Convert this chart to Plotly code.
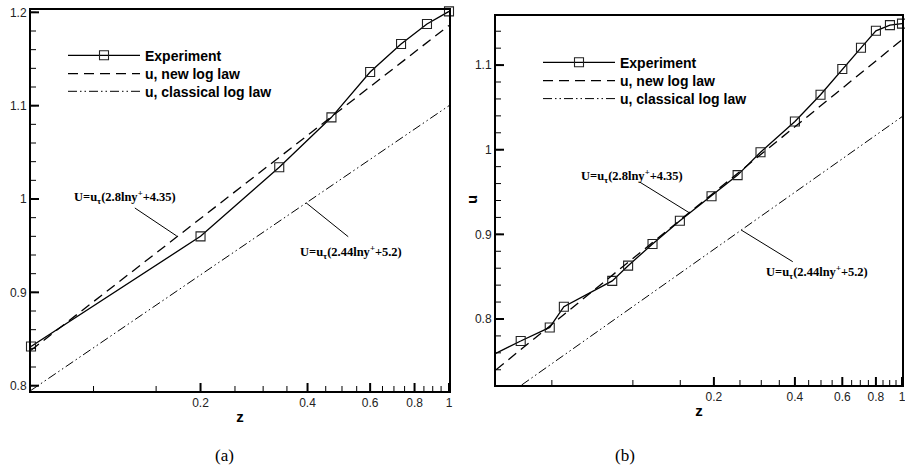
import numpy as np
import plotly.graph_objects as go

# ---------------- data: panel (a) ----------------
z_exp_a = [0.0667, 0.2, 0.333, 0.467, 0.6, 0.733, 0.867, 1.0]
u_exp_a = [0.842, 0.960, 1.034, 1.0875, 1.136, 1.166, 1.1875, 1.201]
z_new_a = [0.0667, 1.0]
u_new_a = [0.838, 1.186]
z_cls_a = [0.0667, 1.0]
u_cls_a = [0.795, 1.100]

# ---------------- data: panel (b) ----------------
z_exp_b = [0.025, 0.0383, 0.0491, 0.0554, 0.0838, 0.096, 0.1183, 0.1495, 0.196,
           0.245, 0.298, 0.4, 0.498, 0.6, 0.704, 0.8, 0.902, 1.0]
u_exp_b = [0.745, 0.774, 0.790, 0.8145, 0.845, 0.863, 0.8886, 0.916, 0.945,
           0.970, 0.997, 1.0334, 1.065, 1.0953, 1.1204, 1.1405, 1.1472, 1.149]
z_new_b = [0.031, 1.0]
u_new_b = [0.740, 1.130]
z_cls_b = [0.0386, 1.0]
u_cls_b = [0.722, 1.039]

# ---------------- ticks ----------------
x_tickvals = [0.2, 0.4, 0.6, 0.8, 1.0]
x_ticktext = ["0.2", "0.4", "0.6", "0.8", "1"]
x_minorvals = [0.05, 0.1, 0.15, 0.25, 0.3, 0.35, 0.45, 0.5, 0.55, 0.65, 0.7,
               0.75, 0.85, 0.9, 0.95]
y_tickvals_a = [0.8, 0.9, 1.0, 1.1, 1.2]
y_ticktext_a = ["0.8", "0.9", "1", "1.1", "1.2"]
y_tickvals_b = [0.8, 0.9, 1.0, 1.1]
y_ticktext_b = ["0.8", "0.9", "1", "1.1"]
y_minor_step = 0.02

legend_names = ["Experiment", "u, new log law", "u, classical log law"]
label_new = "U=u<sub>τ</sub>(2.8lny<sup>+</sup>+4.35)"
label_cls = "U=u<sub>τ</sub>(2.44lny<sup>+</sup>+5.2)"

W, H = 905, 470
SANS = "Liberation Sans"
SERIF = "Liberation Serif"
DASH_NEW = "10px,6px"
DASH_CLS = "9px,3px,1.5px,3px,1.5px,3px"
MAJOR_LEN, MINOR_LEN = 8, 5

# plot areas in pixels: (left, right, top, bottom)
box_a = (31, 449, 10, 391)
box_b = (496, 902, 16, 385)
xr_a = [np.log10(0.0667), 0]
yr_a = [0.7943, 1.2025]
xr_b = [np.log10(0.031), 0]
yr_b = [0.722, 1.158]


def fx(px):
    return px / W


def fy(px):
    return 1 - px / H


fig = go.Figure()


def add_panel(xa, ya, z_exp, u_exp, z_new, u_new, z_cls, u_cls, legs, x_lo):
    # points left of the plotted range only continue the line to the frame
    inside = [i for i, z in enumerate(z_exp) if z >= x_lo]
    first = inside[0]
    if first > 0:
        fig.add_trace(go.Scatter(
            x=z_exp[:first + 1], y=u_exp[:first + 1], mode="lines",
            line=dict(color="black", width=1.3), showlegend=False,
            hoverinfo="skip", xaxis=xa, yaxis=ya))
    fig.add_trace(go.Scatter(
        x=z_exp[first:], y=u_exp[first:], mode="lines+markers",
        name=legend_names[0],
        line=dict(color="black", width=1.3),
        marker=dict(symbol="square-open", size=9, color="#222",
                    line=dict(width=1.1, color="#222")),
        cliponaxis=False, xaxis=xa, yaxis=ya, legend=legs[0]))
    fig.add_trace(go.Scatter(
        x=z_new, y=u_new, mode="lines", name=legend_names[1],
        line=dict(color="black", width=1.3, dash=DASH_NEW),
        xaxis=xa, yaxis=ya, legend=legs[1]))
    fig.add_trace(go.Scatter(
        x=z_cls, y=u_cls, mode="lines", name=legend_names[2],
        line=dict(color="black", width=1.0, dash=DASH_CLS),
        xaxis=xa, yaxis=ya, legend=legs[2]))


def add_tick_marks(xa, ya, xr, yr, box, y_major):
    """Inward tick marks drawn as short segments against the frame."""
    left, right, top, bottom = box
    dec_per_px = (xr[1] - xr[0]) / (right - left)
    u_per_px = (yr[1] - yr[0]) / (bottom - top)
    z_lo = 10 ** xr[0]
    x_minor = [v for v in x_minorvals if v > z_lo]
    n0 = int(np.ceil(yr[0] / y_minor_step - 1e-9))
    n1 = int(np.floor(yr[1] / y_minor_step + 1e-9))
    y_minor = [round(k * y_minor_step, 2) for k in range(n0, n1 + 1)]
    for vals_x, vals_y, length, lw in [(x_tickvals, y_major, MAJOR_LEN, 2),
                                       (x_minor, y_minor, MINOR_LEN, 1)]:
        u_end = yr[0] + length * u_per_px
        z_end = 10 ** (xr[0] + length * dec_per_px)
        xs, ys = [], []
        # vertical marks rising from the bottom frame
        for v in vals_x:
            xs += [v, v, None]
            ys += [yr[0], u_end, None]
        # horizontal marks reaching in from the left frame
        for v in vals_y:
            xs += [z_lo, z_end, None]
            ys += [v, v, None]
        fig.add_trace(go.Scatter(
            x=xs, y=ys, mode="lines", showlegend=False, hoverinfo="skip",
            connectgaps=False, xaxis=xa, yaxis=ya,
            line=dict(color="black", width=lw)))


add_panel("x", "y", z_exp_a, u_exp_a, z_new_a, u_new_a, z_cls_a, u_cls_a,
          ["legend", "legend2", "legend3"], 0.0667)
add_panel("x2", "y2", z_exp_b, u_exp_b, z_new_b, u_new_b, z_cls_b, u_cls_b,
          ["legend4", "legend5", "legend6"], 0.031)
add_tick_marks("x", "y", xr_a, yr_a, box_a, y_tickvals_a)
add_tick_marks("x2", "y2", xr_b, yr_b, box_b, y_tickvals_b)

# formula labels: (panel axes, label, text z, text u, leader from, leader to)
callouts = [
    ("x", "y", label_new, 0.1225, 1.0025, (0.1307, 0.9904), (0.1714, 0.9604)),
    ("x", "y", label_cls, 0.530, 0.9432, (0.5206, 0.9596), (0.396, 0.996)),
    ("x2", "y2", label_new, 0.0995, 0.9689, (0.1060, 0.9618), (0.1626, 0.9252)),
    ("x2", "y2", label_cls, 0.483, 0.8559, (0.3927, 0.8677), (0.2527, 0.9051)),
]
annfont = dict(family=SERIF, size=12.5, color="black", weight="bold")
for xr, yr, txt, tz, tu, p0, p1 in callouts:
    fig.add_trace(go.Scatter(
        x=[p0[0], p1[0]], y=[p0[1], p1[1]], mode="lines",
        line=dict(color="black", width=1), showlegend=False,
        hoverinfo="skip", xaxis=xr, yaxis=yr))
    fig.add_annotation(x=np.log10(tz), y=tu, xref=xr, yref=yr, text=txt,
                       showarrow=False, font=annfont,
                       xanchor="center", yanchor="middle")

tickfont = dict(family=SANS, size=12, color="#222")
titlefont = dict(family=SANS, size=15, color="black", weight="bold")


def xaxis_cfg(box, rng, anchor):
    return dict(type="log", domain=[fx(box[0]), fx(box[1])], range=rng,
                anchor=anchor, autorange=False, automargin=False,
                showgrid=False, zeroline=False, ticks="",
                tickmode="array", tickvals=x_tickvals, ticktext=x_ticktext,
                ticklabeloverflow="allow",
                showline=True, linecolor="black", linewidth=2, mirror=True,
                tickfont=tickfont,
                title=dict(text="z", font=titlefont, standoff=2))


def yaxis_cfg(box, rng, tv, tt, anchor):
    return dict(domain=[fy(box[3]), fy(box[2])], range=rng, anchor=anchor,
                autorange=False, automargin=False, showgrid=False,
                zeroline=False, ticks="",
                tickmode="array", tickvals=tv, ticktext=tt, ticksuffix=" ",
                showline=True, linecolor="black", linewidth=2, mirror=True,
                tickfont=tickfont)


legfont = dict(family=SANS, size=14, color="black", weight="bold")


def legend_cfg(x_px, y_px):
    return dict(x=fx(x_px), y=fy(y_px), xanchor="left", yanchor="middle",
                bgcolor="rgba(0,0,0,0)", borderwidth=0, font=legfont,
                itemwidth=72, itemclick=False, itemdoubleclick=False)


layout = dict(
    template="none",
    width=W, height=H, margin=dict(l=0, r=0, t=0, b=0, autoexpand=False),
    paper_bgcolor="white", plot_bgcolor="white",
    xaxis=xaxis_cfg(box_a, xr_a, "y"),
    yaxis=yaxis_cfg(box_a, yr_a, y_tickvals_a, y_ticktext_a, "x"),
    xaxis2=xaxis_cfg(box_b, xr_b, "y2"),
    yaxis2=yaxis_cfg(box_b, yr_b, y_tickvals_b, y_ticktext_b, "x2"),
)

leg_rows_a = [55.7, 74, 91.7]
leg_rows_b = [62.7, 81, 99]
for i, y_px in enumerate(leg_rows_a):
    layout["legend" if i == 0 else f"legend{i + 1}"] = legend_cfg(63, y_px)
for i, y_px in enumerate(leg_rows_b):
    layout[f"legend{i + 4}"] = legend_cfg(538, y_px)

fig.update_layout(**layout)

# y-axis title of panel (b)
fig.add_annotation(x=fx(472), y=fy(200), xref="paper", yref="paper",
                   text="u", textangle=-90, showarrow=False, font=titlefont,
                   xanchor="center", yanchor="middle")

# panel captions
capfont = dict(family=SERIF, size=17, color="black")
for cx, cap in [(224, "(a)"), (625, "(b)")]:
    fig.add_annotation(x=fx(cx), y=fy(455), xref="paper", yref="paper",
                       text=cap, showarrow=False, font=capfont,
                       xanchor="center", yanchor="middle")

fig.write_html("out.html")
